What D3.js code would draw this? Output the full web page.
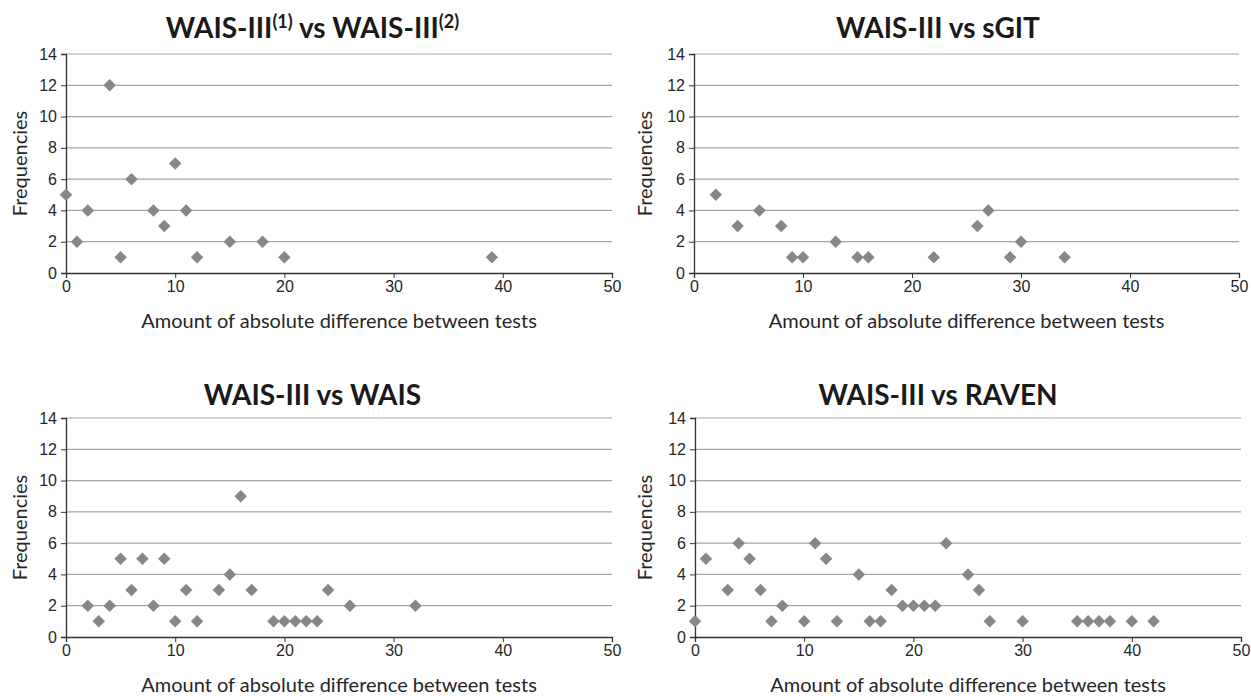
<!DOCTYPE html>
<html>
<head>
<meta charset="utf-8">
<script src="https://cdn.jsdelivr.net/npm/d3@7"></script>
<style>
  body { margin: 0; background: #fff; }
  svg { font-family: Lato, "Open Sans", sans-serif; }
</style>
</head>
<body>
<svg id="chart" width="1251" height="696"></svg>
<script>
// tick values shared by every panel
const xTicks = [0, 10, 20, 30, 40, 50];
const yTicks = [0, 2, 4, 6, 8, 10, 12, 14];

// absolute difference -> frequency
const diffWais3 = [0, 1, 2, 4, 5, 6, 8, 9, 10, 11, 12, 15, 18, 20, 39];
const freqWais3 = [5, 2, 4, 12, 1, 6, 4, 3, 7, 4, 1, 2, 2, 1, 1];

const diffSgit = [2, 4, 6, 8, 9, 10, 13, 15, 16, 22, 26, 27, 29, 30, 34];
const freqSgit = [5, 3, 4, 3, 1, 1, 2, 1, 1, 1, 3, 4, 1, 2, 1];

const diffWais = [2, 3, 4, 5, 6, 7, 8, 9, 10, 11, 12, 14, 15, 16, 17, 19, 20, 21, 22, 23, 24, 26, 32];
const freqWais = [2, 1, 2, 5, 3, 5, 2, 5, 1, 3, 1, 3, 4, 9, 3, 1, 1, 1, 1, 1, 3, 2, 2];

const diffRaven = [0, 1, 3, 4, 5, 6, 7, 8, 10, 11, 12, 13, 15, 16, 17, 18, 19, 20, 21, 22, 23, 25, 26, 27, 30, 35, 36, 37, 38, 40, 42];
const freqRaven = [1, 5, 3, 6, 5, 3, 1, 2, 1, 6, 5, 1, 4, 1, 1, 3, 2, 2, 2, 2, 6, 4, 3, 1, 1, 1, 1, 1, 1, 1, 1];

const xLabel = "Amount of absolute difference between tests";
const yLabel = "Frequencies";

// panel boxes (chart area + plot area)
const panels = [
    {title: "WAIS-III vs WAIS-III", sup: ["(1)", "(2)"], xs: diffWais3, ys: freqWais3,
     cx: 0, cw: 625, left: 66, right: 612, top: 54, bottom: 273, titleY: 38},
    {title: "WAIS-III vs sGIT", xs: diffSgit, ys: freqSgit,
     cx: 625, cw: 626, left: 694, right: 1239, top: 54, bottom: 273, titleY: 38},
    {title: "WAIS-III vs WAIS", xs: diffWais, ys: freqWais,
     cx: 0, cw: 625, left: 66, right: 612, top: 418, bottom: 637, titleY: 405},
    {title: "WAIS-III vs RAVEN", xs: diffRaven, ys: freqRaven,
     cx: 625, cw: 626, left: 695, right: 1241, top: 418, bottom: 637, titleY: 405}
];

const svg = d3.select("#chart");
const textColor = "#262626";

panels.forEach(p => {
    const g = svg.append("g");

    const x = d3.scaleLinear().domain([0, 50]).range([p.left, p.right]);
    const y = d3.scaleLinear().domain([0, 14]).range([p.bottom, p.top]);

    // horizontal gridlines
    g.selectAll(".grid")
        .data(yTicks.filter(t => t > 0))
        .enter().append("line")
        .attr("x1", p.left)
        .attr("x2", p.right)
        .attr("y1", d => y(d))
        .attr("y2", d => y(d))
        .attr("stroke", "#a6a6a6")
        .attr("stroke-width", 1.2);

    // y axis
    const yAxis = g.append("g")
        .attr("transform", `translate(${p.left},0)`)
        .call(d3.axisLeft(y).tickValues(yTicks).tickSize(5).tickPadding(4));
    yAxis.select(".domain").attr("stroke", "#333").attr("stroke-width", 1.3);
    yAxis.selectAll(".tick line").attr("stroke", "#333");
    yAxis.selectAll("text").attr("font-size", 16).attr("fill", textColor);

    // x axis
    const xAxis = g.append("g")
        .attr("transform", `translate(0,${p.bottom})`)
        .call(d3.axisBottom(x).tickValues(xTicks).tickSize(5).tickPadding(3));
    xAxis.select(".domain").attr("stroke", "#333").attr("stroke-width", 1.3);
    xAxis.selectAll(".tick line").attr("stroke", "#333");
    xAxis.selectAll("text").attr("font-size", 16).attr("fill", textColor);

    // diamonds
    const pts = p.xs.map((v, i) => ({d: v, f: p.ys[i]}));
    g.selectAll(".dot")
        .data(pts)
        .enter().append("path")
        .attr("class", "dot")
        .attr("d", d3.symbol().type(d3.symbolSquare).size(78))
        .attr("transform", d => `translate(${x(d.d)},${y(d.f)}) rotate(45)`)
        .attr("fill", "#878787");

    // title
    const t = g.append("text")
        .attr("x", p.cx + p.cw / 2)
        .attr("y", p.titleY)
        .attr("text-anchor", "middle")
        .attr("font-size", 28)
        .attr("font-weight", "bold")
        .attr("fill", "#1a1a1a");
    if (p.sup) {
        t.append("tspan").text("WAIS-III");
        t.append("tspan").text(p.sup[0]).attr("font-size", 18).attr("dy", -10);
        t.append("tspan").text(" vs WAIS-III").attr("dy", 10);
        t.append("tspan").text(p.sup[1]).attr("font-size", 18).attr("dy", -10);
    } else {
        t.text(p.title);
    }

    // axis labels
    g.append("text")
        .attr("x", (p.left + p.right) / 2)
        .attr("y", p.bottom + 55)
        .attr("text-anchor", "middle")
        .attr("font-size", 20)
        .attr("fill", textColor)
        .text(xLabel);

    g.append("text")
        .attr("transform", `translate(${p.cx + 27},${(p.top + p.bottom) / 2}) rotate(-90)`)
        .attr("text-anchor", "middle")
        .attr("font-size", 20)
        .attr("fill", textColor)
        .text(yLabel);
});
</script>
</body>
</html>
